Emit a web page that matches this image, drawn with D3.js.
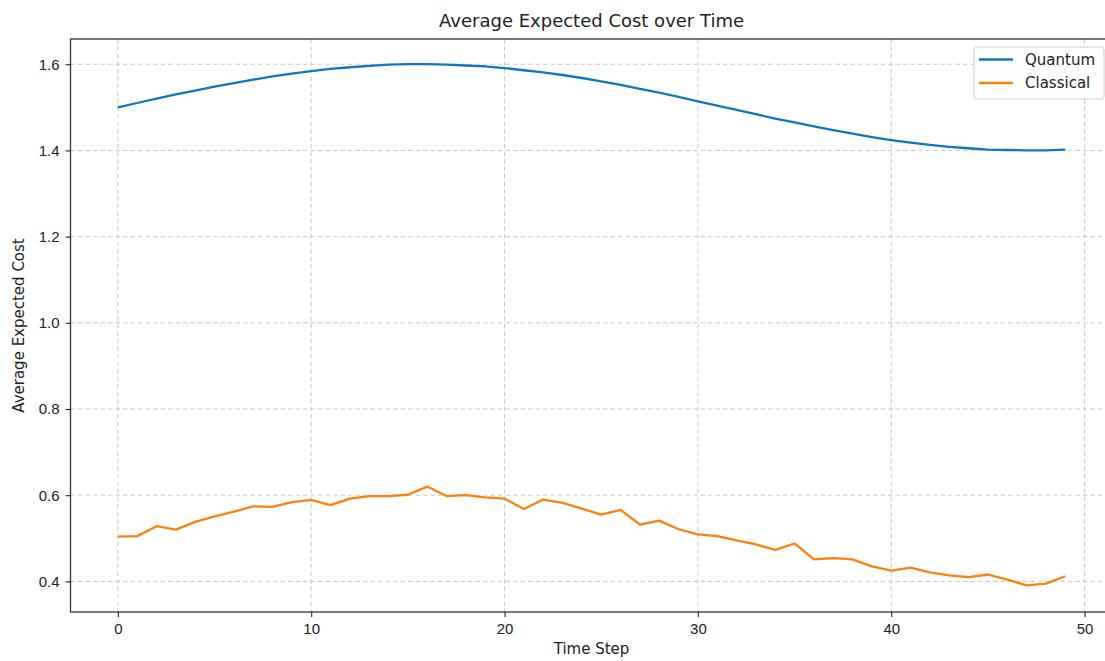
<!DOCTYPE html>
<html>
<head>
<meta charset="utf-8">
<script src="https://cdn.jsdelivr.net/npm/d3@7"></script>
<style>
  body { margin: 0; background: #fff; }
  svg { font-family: "DejaVu Sans", sans-serif; }
  .grid line { stroke: #c8c8c8; stroke-dasharray: 4.5,3; stroke-width: 1; }
  .axis path { display: none; }
  .axis line { stroke: #222; stroke-width: 1.1; }
  .axis text { font-size: 15px; fill: #222; }
</style>
</head>
<body>
<svg width="1105" height="661"></svg>
<script>
// time steps 0..49
var steps = d3.range(0, 50);

var quantum = [
  1.500, 1.510, 1.520, 1.530, 1.539, 1.548, 1.556, 1.564, 1.572, 1.578,
  1.584, 1.589, 1.593, 1.596, 1.599, 1.600, 1.600, 1.599, 1.597, 1.595,
  1.591, 1.586, 1.581, 1.575, 1.568, 1.560, 1.552, 1.543, 1.534, 1.524,
  1.514, 1.504, 1.494, 1.484, 1.474, 1.465, 1.456, 1.447, 1.439, 1.431,
  1.424, 1.418, 1.413, 1.408, 1.405, 1.402, 1.401, 1.400, 1.400, 1.402
];
var classical = [
  0.504, 0.505, 0.528, 0.520, 0.538, 0.551, 0.562, 0.574, 0.573, 0.584,
  0.589, 0.577, 0.592, 0.598, 0.598, 0.601, 0.620, 0.598, 0.600, 0.595,
  0.592, 0.568, 0.590, 0.582, 0.569, 0.555, 0.566, 0.532, 0.541, 0.521,
  0.509, 0.505, 0.495, 0.486, 0.473, 0.488, 0.451, 0.454, 0.451, 0.435,
  0.425, 0.432, 0.421, 0.414, 0.410, 0.416, 0.404, 0.391, 0.395, 0.412
];

var seriesNames = ["Quantum", "Classical"];
var seriesColors = ["#0f78bd", "#ff7f0e"];
var xTicks = [0, 10, 20, 30, 40, 50];
var yTicks = [0.4, 0.6, 0.8, 1.0, 1.2, 1.4, 1.6];

var svg = d3.select("svg");
var plotL = 70.5, plotR = 1112.6, plotT = 39, plotB = 612;

var x = d3.scaleLinear().domain([-2.45, 51.45]).range([plotL, plotR]);
var y = d3.scaleLinear().domain([0.329, 1.6585]).range([plotB, plotT]);

// grid
var grid = svg.append("g").attr("class", "grid");
grid.selectAll(".gx").data(xTicks).enter().append("line")
    .attr("x1", function(d) { return x(d); })
    .attr("x2", function(d) { return x(d); })
    .attr("y1", plotT).attr("y2", plotB);
grid.selectAll(".gy").data(yTicks).enter().append("line")
    .attr("x1", plotL).attr("x2", plotR)
    .attr("y1", function(d) { return y(d); })
    .attr("y2", function(d) { return y(d); });

// lines
var line = d3.line()
    .x(function(d, i) { return x(steps[i]); })
    .y(function(d) { return y(d); });

[quantum, classical].forEach(function(s, i) {
  svg.append("path")
      .datum(s)
      .attr("fill", "none")
      .attr("stroke", seriesColors[i])
      .attr("stroke-width", 2.3)
      .attr("stroke-linejoin", "round")
      .attr("d", line);
});

// frame
svg.append("rect")
    .attr("x", plotL).attr("y", plotT)
    .attr("width", plotR - plotL).attr("height", plotB - plotT)
    .attr("fill", "none")
    .attr("stroke", "#333")
    .attr("stroke-width", 1.3);

// axes
svg.append("g")
    .attr("class", "axis")
    .attr("transform", "translate(0," + plotB + ")")
    .call(d3.axisBottom(x).tickValues(xTicks).tickFormat(d3.format("d")).tickSize(5).tickPadding(6));

svg.append("g")
    .attr("class", "axis")
    .attr("transform", "translate(" + plotL + ",0)")
    .call(d3.axisLeft(y).tickValues(yTicks).tickFormat(d3.format(".1f")).tickSize(5).tickPadding(6));

// title and labels
svg.append("text")
    .attr("x", (plotL + plotR) / 2)
    .attr("y", 27)
    .attr("text-anchor", "middle")
    .attr("font-size", 18)
    .attr("fill", "#222")
    .text("Average Expected Cost over Time");

svg.append("text")
    .attr("x", (plotL + plotR) / 2)
    .attr("y", 654)
    .attr("text-anchor", "middle")
    .attr("font-size", 15)
    .attr("fill", "#222")
    .text("Time Step");

svg.append("text")
    .attr("transform", "translate(24," + (plotT + plotB) / 2 + ") rotate(-90)")
    .attr("text-anchor", "middle")
    .attr("font-size", 15)
    .attr("fill", "#222")
    .text("Average Expected Cost");

// legend
var legend = svg.append("g").attr("transform", "translate(974,47)");
legend.append("rect")
    .attr("width", 130).attr("height", 52)
    .attr("rx", 3)
    .attr("fill", "#fff").attr("fill-opacity", 0.85)
    .attr("stroke", "#d0d0d0");

var item = legend.selectAll(".item")
    .data(seriesNames)
  .enter().append("g")
    .attr("transform", function(d, i) { return "translate(0," + (12.5 + i * 23.5) + ")"; });

item.append("line")
    .attr("x1", 5).attr("x2", 39)
    .attr("stroke", function(d, i) { return seriesColors[i]; })
    .attr("stroke-width", 2.3);

item.append("text")
    .attr("x", 51)
    .attr("dy", "0.35em")
    .attr("font-size", 15)
    .attr("fill", "#222")
    .text(function(d) { return d; });
</script>
</body>
</html>
